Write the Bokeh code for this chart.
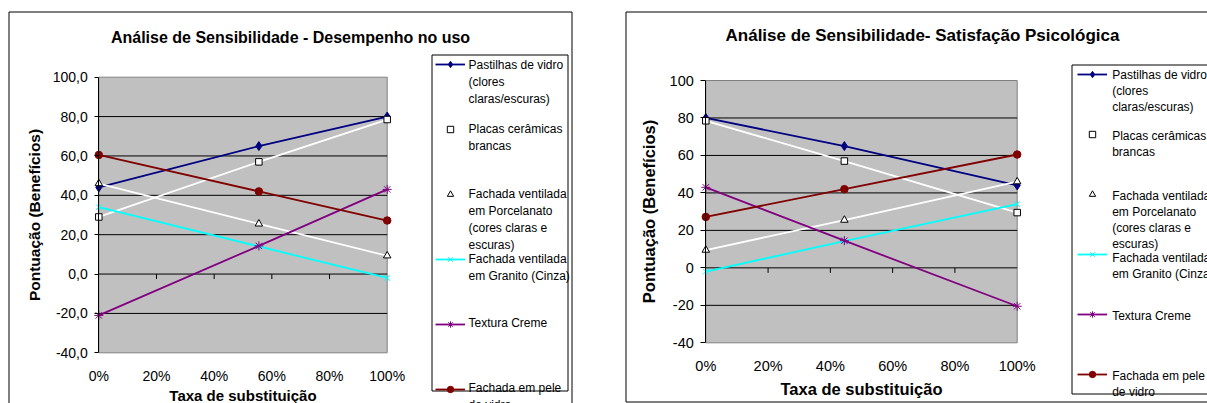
import numpy as np
from bokeh.plotting import figure
from bokeh.layouts import row
from bokeh.models import FixedTicker, Legend, LegendItem, Label, BoxAnnotation, Range1d
from bokeh.embed import file_html
from bokeh.resources import INLINE

FONT = "Liberation Sans"

# ---------------- data ----------------
legend_lines = [
    ["Pastilhas de vidro", "(clores", "claras/escuras)"],
    ["Placas cerâmicas", "brancas"],
    ["Fachada ventilada", "em Porcelanato", "(cores claras e", "escuras)"],
    ["Fachada ventilada", "em Granito (Cinza)"],
    ["Textura Creme"],
    ["Fachada em pele", "de vidro"],
]

x_desempenho = [0.0, 0.555, 1.0]
x_satisfacao = [0.0, 0.445, 1.0]

desempenho_pastilhas = [44.0, 65.0, 80.0]
desempenho_placas = [29.0, 57.0, 78.5]
desempenho_porcelanato = [46.0, 25.5, 9.3]
desempenho_granito = [34.0, 14.0, -2.0]
desempenho_textura = [-21.0, 14.3, 43.0]
desempenho_pele = [60.5, 42.0, 27.2]

satisfacao_pastilhas = [80.0, 65.0, 44.0]
satisfacao_placas = [78.5, 57.0, 29.5]
satisfacao_porcelanato = [9.5, 25.5, 46.0]
satisfacao_granito = [-2.0, 14.3, 34.0]
satisfacao_textura = [43.0, 14.5, -20.5]
satisfacao_pele = [27.2, 42.0, 60.5]

y_min, y_max = -40, 100
x_min, x_max = 0.0, 1.0
y_ticks = [-40, -20, 0, 20, 40, 60, 80, 100]
y_labels_desempenho = ["-40,0", "-20,0", "0,0", "20,0", "40,0", "60,0", "80,0", "100,0"]
y_labels_satisfacao = ["-40", "-20", "0", "20", "40", "60", "80", "100"]
grid_values = [-20, 0, 20, 40, 60, 80]
x_ticks = [0.0, 0.2, 0.4, 0.6, 0.8, 1.0]
x_labels = ["0%", "20%", "40%", "60%", "80%", "100%"]
x_inner_ticks = [0.2, 0.4, 0.6, 0.8]

title_desempenho = "Análise de Sensibilidade - Desempenho no uso"
title_satisfacao = "Análise de Sensibilidade- Satisfação Psicológica"
y_title = "Pontuação (Benefícios)"
x_title = "Taxa de substituição"

# ---------------- styles ----------------
styles = [
    dict(line="#000080", marker="diamond", size=9, fill="#000080", edge="#000080"),
    dict(line="#FFFFFF", marker="square", size=6.5, fill="#FFFFFF", edge="#000000"),
    dict(line="#FFFFFF", marker="triangle", size=7.5, fill="#FFFFFF", edge="#000000"),
    dict(line="#00FFFF", marker="x", size=8, fill=None, edge="#00FFFF"),
    dict(line="#800080", marker="asterisk", size=9, fill=None, edge="#800080"),
    dict(line="#800000", marker="circle", size=7.5, fill="#800000", edge="#800000"),
]

H = 403


def make_chart(c, xs, series, ylabels, title):
    W = c["W"]
    cx0 = c["canvas_x"]
    pl, pr, pt, pb = c["plot"]  # page coordinates of the plot area
    kx = (x_max - x_min) / (pr - pl)
    ky = (y_max - y_min) / (pb - pt)
    xr = Range1d(x_min + (cx0 - pl) * kx, x_min + (cx0 + W - pl) * kx)
    yr = Range1d(y_max - (H - pt) * ky, y_max + pt * ky)
    p = figure(width=W, height=H, x_range=xr, y_range=yr, title=None,
               output_backend="svg", toolbar_location=None, min_border=0,
               min_border_left=0, min_border_right=0, min_border_top=0, min_border_bottom=0)
    p.background_fill_color = "white"
    p.border_fill_color = "white"
    p.outline_line_color = None
    p.xgrid.visible = False
    p.ygrid.visible = False

    # plot area
    p.quad(left=[x_min], right=[x_max], bottom=[y_min], top=[y_max],
           fill_color="#C0C0C0", line_color="#808080", line_width=1)
    # horizontal grid lines
    p.segment(x0=[x_min] * len(grid_values), y0=grid_values,
              x1=[x_max] * len(grid_values), y1=grid_values,
              line_color="black", line_width=1)
    # small tick marks hanging below the zero line
    tick_len = 5 * ky
    p.segment(x0=x_inner_ticks, y0=[0] * len(x_inner_ticks), x1=x_inner_ticks,
              y1=[-tick_len] * len(x_inner_ticks), line_color="black", line_width=1)

    # y axis (fixed at x = 0)
    ya = p.yaxis[0]
    ya.fixed_location = x_min
    ya.bounds = (y_min, y_max)
    ya.ticker = FixedTicker(ticks=y_ticks)
    ya.major_label_overrides = dict(zip(y_ticks, ylabels))
    ya.major_tick_in = 0
    ya.major_tick_out = c["ytick_out"]
    ya.major_tick_line_color = "black"
    ya.minor_tick_line_color = None
    ya.axis_line_color = "black"
    ya.major_label_standoff = c["ylab_standoff"]
    ya.major_label_text_font = FONT
    ya.major_label_text_font_size = c["tick_size"]
    ya.major_label_text_color = "black"
    ya.axis_label = y_title
    ya.axis_label_text_font = FONT
    ya.axis_label_text_font_style = "bold"
    ya.axis_label_text_color = "black"
    ya.axis_label_text_font_size = c["ytitle_size"]
    ya.axis_label_standoff = c["ytitle_standoff"]

    # x axis (labels only, fixed at the bottom of the plot area)
    xa = p.xaxis[0]
    xa.fixed_location = y_min
    xa.bounds = (x_min, x_max)
    xa.ticker = FixedTicker(ticks=x_ticks)
    xa.major_label_overrides = dict(zip(x_ticks, x_labels))
    xa.major_tick_in = 0
    xa.major_tick_out = 0
    xa.minor_tick_line_color = None
    xa.axis_line_color = None
    xa.major_label_standoff = c["xlab_standoff"]
    xa.major_label_text_font = FONT
    xa.major_label_text_font_size = c["tick_size"]
    xa.major_label_text_color = "black"
    xa.axis_label = x_title
    xa.axis_label_text_font = FONT
    xa.axis_label_text_font_style = "bold"
    xa.axis_label_text_color = "black"
    xa.axis_label_text_font_size = c["xtitle_size"]
    xa.axis_label_standoff = c["xtitle_standoff"]

    items = []
    for ys, st in zip(series, styles):
        lr = p.line(xs, ys, line_color=st["line"], line_width=1.8)
        sr = p.scatter(xs, ys, marker=st["marker"], size=st["size"],
                       fill_color=st["fill"], line_color=st["edge"], line_width=1)
        items.append(LegendItem(label=" ", renderers=[lr, sr]))

    # page coords -> screen units (relative to frame bottom-left, y up)
    sx = lambda px: px - cx0
    sy = lambda py: H - py

    def box(l, t, r, b):
        return BoxAnnotation(left=sx(l), right=sx(r), top=sy(t), bottom=sy(b),
                             left_units="screen", right_units="screen",
                             top_units="screen", bottom_units="screen",
                             fill_color=None, fill_alpha=0, line_color="black",
                             line_alpha=1.0, line_width=1)

    p.add_layout(box(*c["border"]))
    p.add_layout(box(*c["legbox"]))

    # legend samples
    gh = 16
    n = len(items)
    sp = c["leg_pitch"] - gh
    Hleg = n * gh + (n - 1) * sp
    top_page = c["leg_centers"][0] - gh / 2
    leg = Legend(items=items, location=(sx(c["leg_sample_x"]), sy(top_page + Hleg)),
                 orientation="vertical", glyph_width=30, glyph_height=gh, label_height=gh,
                 label_width=0, label_standoff=0, spacing=sp, padding=0, margin=0,
                 border_line_color=None, background_fill_alpha=0,
                 label_text_font_size="12px")
    p.add_layout(leg)

    # legend texts
    for lines, cy in zip(legend_lines, c["leg_centers"]):
        for k, t in enumerate(lines):
            p.add_layout(Label(x=sx(c["leg_text_x"]), y=sy(cy + k * c["leg_step"]),
                               x_units="screen", y_units="screen", text=t,
                               text_font=FONT, text_font_size="12px", text_color="black",
                               text_align="left", text_baseline="middle"))

    # chart title
    tx, ty = c["title_pos"]
    p.add_layout(Label(x=sx(tx), y=sy(ty), x_units="screen", y_units="screen", text=title,
                       text_font=FONT, text_font_size=c["title_size"], text_font_style="bold",
                       text_color="black", text_align="center", text_baseline="middle"))
    return p


cfg_left = dict(W=598, canvas_x=0, plot=(98.3, 386.7, 76.7, 352.3),
                ytick_out=4, ylab_standoff=7, tick_size="14px", ytitle_size="15.5px",
                ytitle_standoff=6, xlab_standoff=15, xtitle_size="15px", xtitle_standoff=0,
                border=(8.5, 11.5, 571.5, 420), legbox=(431.5, 54.5, 567.5, 390.5),
                leg_pitch=65, leg_centers=[64, 128.5, 193.3, 258.3, 322.7, 387.3],
                leg_sample_x=435, leg_text_x=468, leg_step=17,
                title_pos=(290, 37), title_size="16px")

cfg_right = dict(W=609, canvas_x=598, plot=(705.3, 1016.7, 80, 342.3),
                 ytick_out=5, ylab_standoff=7, tick_size="14.5px", ytitle_size="16.5px",
                 ytitle_standoff=8, xlab_standoff=15, xtitle_size="16.5px", xtitle_standoff=3,
                 border=(625.5, 11.5, 1240, 401.5), legbox=(1071.5, 64.5, 1240, 393.5),
                 leg_pitch=60, leg_centers=[74.3, 135, 195, 257, 315, 375],
                 leg_sample_x=1077, leg_text_x=1111.7, leg_step=16.3,
                 title_pos=(922, 35), title_size="17px")

p1 = make_chart(cfg_left, x_desempenho,
                [desempenho_pastilhas, desempenho_placas, desempenho_porcelanato,
                 desempenho_granito, desempenho_textura, desempenho_pele],
                y_labels_desempenho, title_desempenho)
p2 = make_chart(cfg_right, x_satisfacao,
                [satisfacao_pastilhas, satisfacao_placas, satisfacao_porcelanato,
                 satisfacao_granito, satisfacao_textura, satisfacao_pele],
                y_labels_satisfacao, title_satisfacao)

layout = row(p1, p2, spacing=0)
open("out.html", "w").write(file_html(layout, INLINE))
